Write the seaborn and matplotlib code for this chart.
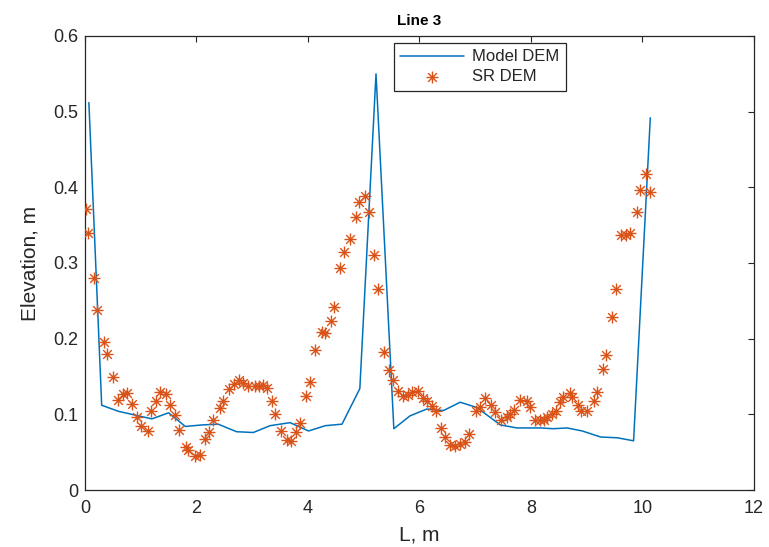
from matplotlib import pyplot as plt
from matplotlib.path import Path
import seaborn as sns
import pandas as pd

# Model DEM profile (blue line)
model_x = [0.07, 0.30, 0.60, 0.90, 1.20, 1.50, 1.80, 2.10, 2.39, 2.72, 3.02, 3.32,
           3.68, 4.01, 4.31, 4.61, 4.93, 5.22, 5.54, 5.83, 6.13, 6.43, 6.73, 7.03,
           7.45, 7.75, 8.17, 8.40, 8.65, 8.92, 9.25, 9.55, 9.84, 10.14]
model_y = [0.512, 0.112, 0.104, 0.099, 0.094, 0.102, 0.084, 0.086, 0.087, 0.077, 0.076, 0.085,
           0.089, 0.078, 0.085, 0.087, 0.134, 0.550, 0.081, 0.098, 0.107, 0.105, 0.116, 0.109,
           0.086, 0.082, 0.082, 0.081, 0.082, 0.078, 0.070, 0.069, 0.065, 0.492]

# SR DEM samples (orange asterisks)
sr_x = [0.02, 0.06, 0.17, 0.22, 0.34, 0.39, 0.50, 0.59, 0.68, 0.75, 0.84, 0.93,
        1.01, 1.13, 1.19, 1.27, 1.35, 1.45, 1.53, 1.62, 1.69, 1.81, 1.84, 1.97,
        2.07, 2.15, 2.22, 2.30, 2.42, 2.47, 2.59, 2.68, 2.77, 2.83, 2.93, 3.05,
        3.13, 3.20, 3.26, 3.35, 3.41, 3.52, 3.62, 3.69, 3.79, 3.86, 3.97, 4.03,
        4.13, 4.25, 4.31, 4.41, 4.46, 4.58, 4.64, 4.75, 4.86, 4.91, 5.03, 5.09,
        5.19, 5.25, 5.36, 5.46, 5.52, 5.62, 5.70, 5.79, 5.87, 5.97, 6.07, 6.13,
        6.22, 6.30, 6.39, 6.46, 6.55, 6.64, 6.72, 6.81, 6.88, 7.02, 7.08, 7.18,
        7.28, 7.35, 7.46, 7.57, 7.63, 7.69, 7.81, 7.92, 7.98, 8.08, 8.17, 8.24,
        8.29, 8.38, 8.44, 8.52, 8.58, 8.70, 8.74, 8.84, 8.90, 9.01, 9.13, 9.19,
        9.30, 9.35, 9.46, 9.52, 9.62, 9.71, 9.78, 9.90, 9.96, 10.07, 10.13]
sr_y = [0.371, 0.340, 0.280, 0.238, 0.195, 0.180, 0.150, 0.119, 0.127, 0.128, 0.113, 0.096,
        0.084, 0.078, 0.104, 0.117, 0.130, 0.127, 0.112, 0.099, 0.079, 0.057, 0.053, 0.045,
        0.046, 0.068, 0.076, 0.093, 0.109, 0.117, 0.133, 0.140, 0.146, 0.142, 0.138, 0.137,
        0.138, 0.139, 0.135, 0.117, 0.101, 0.078, 0.066, 0.065, 0.076, 0.088, 0.124, 0.143,
        0.185, 0.209, 0.207, 0.223, 0.242, 0.294, 0.315, 0.332, 0.361, 0.380, 0.388, 0.367,
        0.311, 0.265, 0.182, 0.159, 0.146, 0.131, 0.124, 0.126, 0.130, 0.131, 0.121, 0.117,
        0.111, 0.104, 0.082, 0.070, 0.060, 0.058, 0.061, 0.064, 0.074, 0.104, 0.110, 0.121,
        0.112, 0.103, 0.093, 0.096, 0.101, 0.106, 0.119, 0.117, 0.110, 0.093, 0.092, 0.092,
        0.097, 0.100, 0.104, 0.116, 0.123, 0.128, 0.123, 0.112, 0.105, 0.105, 0.117, 0.129,
        0.160, 0.178, 0.229, 0.266, 0.337, 0.337, 0.340, 0.367, 0.396, 0.417, 0.394]

x_ticks = [0, 2, 4, 6, 8, 10, 12]
x_tick_labels = ["0", "2", "4", "6", "8", "10", "12"]
y_ticks = [0, 0.1, 0.2, 0.3, 0.4, 0.5, 0.6]
y_tick_labels = ["0", "0.1", "0.2", "0.3", "0.4", "0.5", "0.6"]

model = pd.DataFrame({"L": model_x, "Elevation": model_y})
sr = pd.DataFrame({"L": sr_x, "Elevation": sr_y})

BLUE = "#0072BD"
ORANGE = "#D95319"
DARK = "#262626"

sns.set_style("white")
plt.rcParams["font.family"] = ["Liberation Sans", "DejaVu Sans"]

# MATLAB-like asterisk marker (plus + cross)
d = 0.72
asterisk = Path([(-1, 0), (1, 0), (0, -1), (0, 1), (-d, -d), (d, d), (-d, d), (d, -d)],
                [Path.MOVETO, Path.LINETO] * 4)

fig = plt.figure(figsize=(7.69, 5.47), dpi=100)
ax = fig.add_axes([0.1105, 0.1042, 0.870, 0.830])

sns.lineplot(data=model, x="L", y="Elevation", color=BLUE, linewidth=1.1,
             sort=False, label="Model DEM", ax=ax)
sns.scatterplot(data=sr, x="L", y="Elevation", marker=asterisk, s=75,
                color=ORANGE, edgecolor=ORANGE, linewidth=1.0,
                label="SR DEM", ax=ax, zorder=3)

ax.set_xlim(0, 12)
ax.set_ylim(0, 0.6)
ax.set_xticks(x_ticks)
ax.set_xticklabels(x_tick_labels)
ax.set_yticks(y_ticks)
ax.set_yticklabels(y_tick_labels)
ax.tick_params(direction="in", length=4, width=0.8, colors=DARK, labelsize=13,
               top=True, right=True)
ax.tick_params(axis="x", pad=7)
ax.tick_params(axis="y", pad=5)
for sp in ax.spines.values():
    sp.set_color(DARK)
    sp.set_linewidth(0.9)

ax.set_title("Line 3", fontsize=11, fontweight="bold", color="black", pad=8)
ax.set_xlabel("L, m", fontsize=15, color=DARK, labelpad=6)
ax.set_ylabel("Elevation, m", fontsize=15, color=DARK, labelpad=10)

leg = ax.legend(loc="upper center", bbox_to_anchor=(0.59, 0.985), fontsize=12,
                frameon=True, fancybox=False, framealpha=1, edgecolor=DARK,
                handlelength=3.8, borderpad=0.4, labelspacing=0.3,
                handletextpad=0.5, borderaxespad=0)
leg.get_frame().set_linewidth(0.9)

fig.savefig("out.png", dpi=100)
